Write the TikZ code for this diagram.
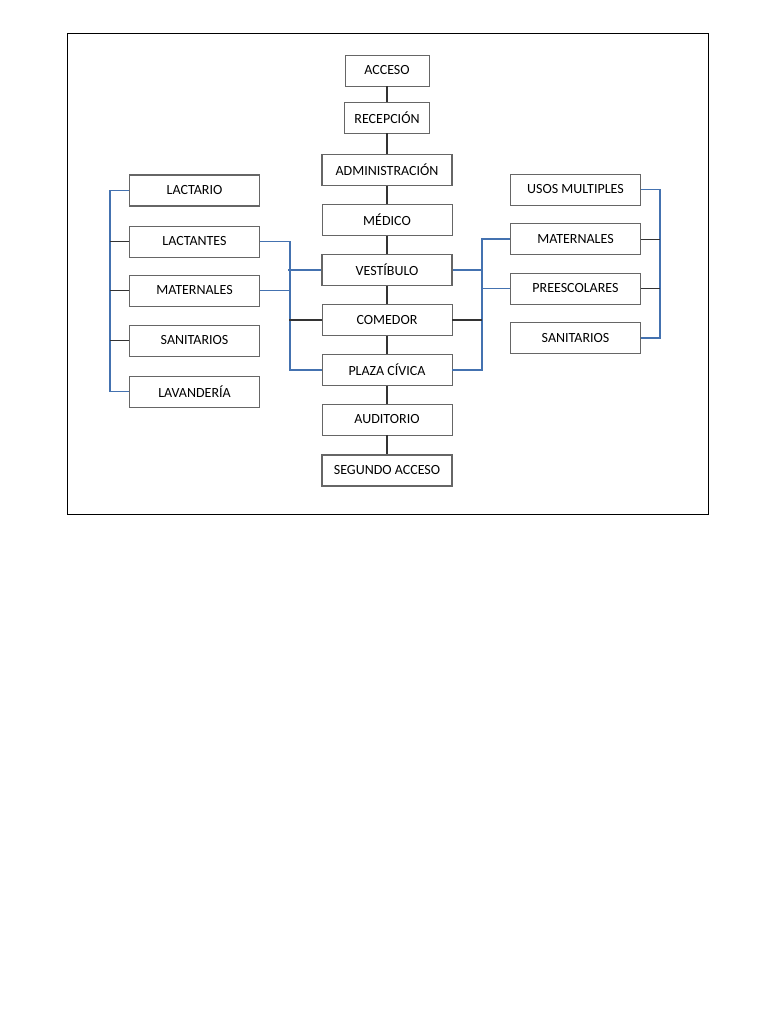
\documentclass[tikz,border=0pt]{standalone}
\usepackage{fontspec}
\setmainfont{Carlito}
\usepackage{tikz}
\definecolor{azul}{RGB}{68,114,176}

\begin{document}
\begin{tikzpicture}[x=1pt,y=-1pt,
    caja/.style={draw=black!60,line width=0.9pt,fill=white,minimum height=31pt,minimum width=130pt,inner sep=0pt,font=\fontsize{14}{16}\selectfont},
    liga/.style={draw=black!80,line width=1.1pt},
    ligaazul/.style={draw=azul,line width=1.3pt}]
    \useasboundingbox (0,0) rectangle (768,1024);
    \draw[line width=1pt] (67,34) rectangle (708,514);
    % eje central
    \node[caja,minimum width=84pt] (acc) at (387,70.5) {ACCESO};
    \node[caja,minimum width=85pt] (rec) at (387,117.5) {RECEPCIÓN};
    \node[caja,line width=1.3pt] (adm) at (387,170) {ADMINISTRACIÓN};
    \node[caja] (med) at (387,220) {MÉDICO};
    \node[caja,line width=1.3pt] (ves) at (387,270) {VESTÍBULO};
    \node[caja] (com) at (387,320) {COMEDOR};
    \node[caja] (pla) at (387,370) {PLAZA CÍVICA};
    \node[caja] (aud) at (387,419.5) {AUDITORIO};
    \node[caja,line width=1.3pt] (seg) at (387,470.5) {SEGUNDO ACCESO};
    % lado izquierdo
    \node[caja,line width=1.3pt] (lacto) at (194.5,190.5) {LACTARIO};
    \node[caja] (lacte) at (194.5,241.5) {LACTANTES};
    \node[caja] (matI) at (194.5,290.5) {MATERNALES};
    \node[caja] (sanI) at (194.5,340.5) {SANITARIOS};
    \node[caja] (lav) at (194.5,391.5) {LAVANDERÍA};
    % lado derecho
    \node[caja] (usos) at (575.5,189.5) {USOS MULTIPLES};
    \node[caja,line width=1.3pt] (matD) at (575.5,239) {MATERNALES};
    \node[caja] (pre) at (575.5,288.5) {PREESCOLARES};
    \node[caja] (sanD) at (575.5,338) {SANITARIOS};

    \foreach \a/\b in {acc/rec,rec/adm,adm/med,med/ves,ves/com,com/pla,pla/aud,aud/seg}
        \draw[liga] (\a) -- (\b);

    \draw[ligaazul] (lacto.west) -- ++(-19,0) |- (lav.west);
    \foreach \n in {lacte,matI,sanI}
        \draw[liga,line width=0.7pt] (\n.west) -- ++(-19,0);
    \draw[ligaazul] (lacte.east) -- ++(30,0) |- (pla.west);
    \draw[ligaazul] (matI.east) -- ++(30,0);
    \draw[ligaazul] (ves.west) -- ++(-33,0);
    \draw[liga] (com.west) -- ++(-33,0);

    \draw[ligaazul] (matD.west) -- ++(-28,0) |- (pla.east);
    \draw[ligaazul] (pre.west) -- ++(-28,0);
    \draw[ligaazul] (ves.east) -- ++(30,0);
    \draw[liga] (com.east) -- ++(30,0);
    \draw[ligaazul] (usos.east) -- ++(19,0) |- (sanD.east);
    \foreach \n in {matD,pre}
        \draw[liga,line width=0.7pt] (\n.east) -- ++(19,0);
\end{tikzpicture}
\end{document}
